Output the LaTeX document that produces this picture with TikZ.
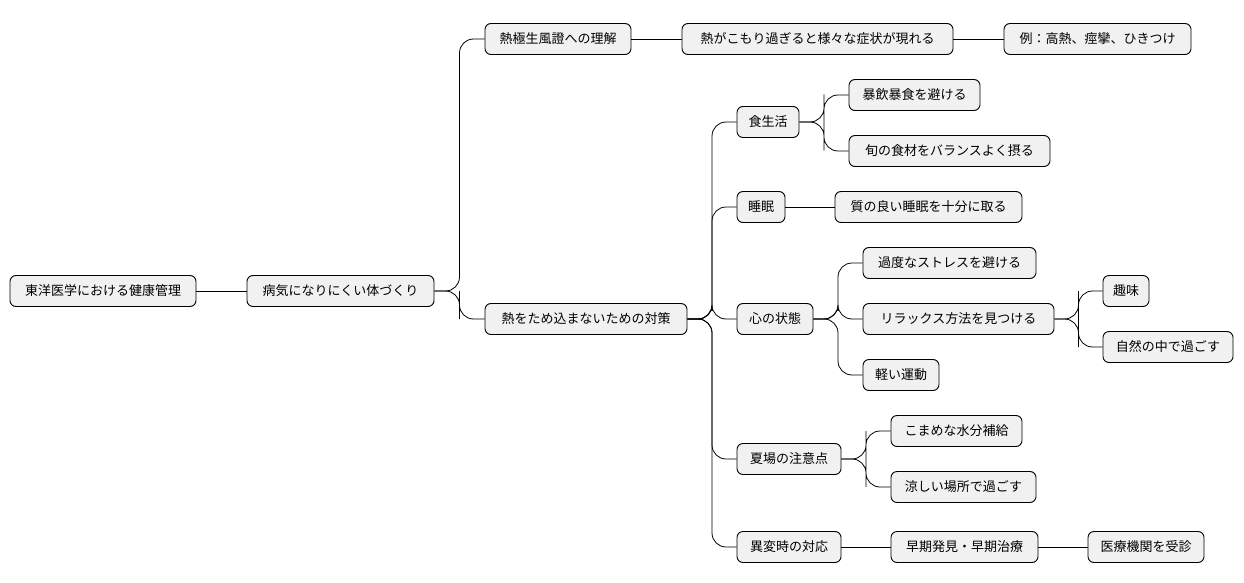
\documentclass[tikz,border=0pt]{standalone}
\usepackage{fontspec}
\setmainfont{Noto Sans CJK JP}
\usetikzlibrary{calc}
\definecolor{boxfill}{HTML}{F1F1F1}
\tikzset{box/.style={draw=black,fill=boxfill,rounded corners=6pt,minimum height=31pt,inner xsep=2pt,font=\fontsize{13pt}{15pt}\selectfont,line width=0.9pt},
conn/.style={draw=black,line width=0.8pt,rounded corners=14pt}}
\newcommand{\nd}[5]{\node[box,minimum width={#3-#2}] (#1) at ({(#2+#3)/2},#4) {#5};}
\newcommand{\cn}[2]{\draw[conn] (#1.east) -| ($(#1.east)!0.5!(#2.west)$) |- (#2.west);}
\begin{document}
\begin{tikzpicture}[x=1pt,y=-1pt]
\useasboundingbox[fill=white] (0,0) rectangle (1244,583);
\nd{a}{10}{196}{291}{東洋医学における健康管理}
\nd{b}{247}{434}{291}{病気になりにくい体づくり}
\nd{c}{485}{631}{39}{熱極生風證への理解}
\nd{d}{682}{953}{39}{熱がこもり過ぎると様々な症状が現れる}
\nd{e}{1004}{1191}{39}{例：高熱、痙攣、ひきつけ}
\nd{f}{485}{687}{319}{熱をため込まないための対策}
\nd{g}{737}{799}{122}{食生活}
\nd{g1}{849}{980}{95}{暴飲暴食を避ける}
\nd{g2}{849}{1050}{151}{旬の食材をバランスよく摂る}
\nd{h}{737}{785}{207}{睡眠}
\nd{h1}{835}{1022}{207}{質の良い睡眠を十分に取る}
\nd{i}{737}{813}{319}{心の状態}
\nd{i1}{863}{1036}{263}{過度なストレスを避ける}
\nd{i2}{863}{1054}{319}{リラックス方法を見つける}
\nd{i21}{1103}{1149}{291}{趣味}
\nd{i22}{1103}{1233}{347}{自然の中で過ごす}
\nd{i3}{863}{939}{375}{軽い運動}
\nd{j}{737}{841}{459}{夏場の注意点}
\nd{j1}{891}{1022}{431}{こまめな水分補給}
\nd{j2}{891}{1036}{487}{涼しい場所で過ごす}
\nd{k}{737}{841}{547}{異変時の対応}
\nd{k1}{891}{1038}{547}{早期発見・早期治療}
\nd{k2}{1088}{1204}{547}{医療機関を受診}
\draw[conn] (a.east) -- (b.west);
\cn{b}{c}\cn{b}{f}
\draw[conn] (c.east) -- (d.west);
\draw[conn] (d.east) -- (e.west);
\cn{f}{g}\cn{f}{h}\cn{f}{i}\cn{f}{j}\cn{f}{k}
\cn{g}{g1}\cn{g}{g2}
\draw[conn] (h.east) -- (h1.west);
\cn{i}{i1}\cn{i}{i2}\cn{i}{i3}
\cn{i2}{i21}\cn{i2}{i22}
\cn{j}{j1}\cn{j}{j2}
\draw[conn] (k.east) -- (k1.west);
\draw[conn] (k1.east) -- (k2.west);
\end{tikzpicture}
\end{document}
